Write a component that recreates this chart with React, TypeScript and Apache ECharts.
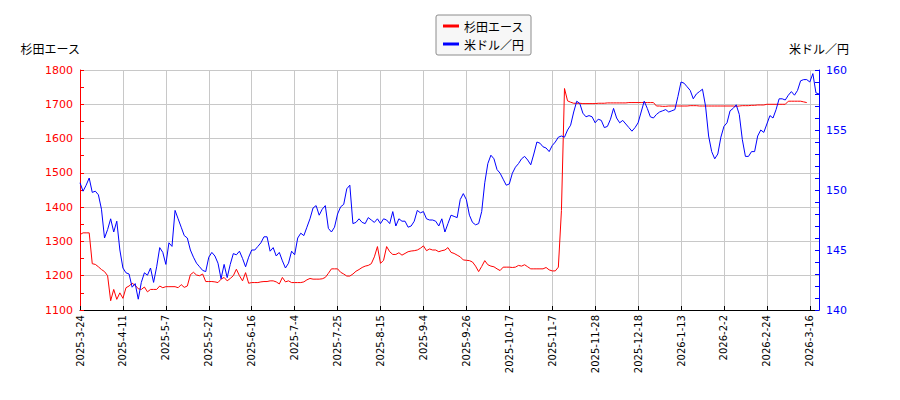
import { useEffect, useRef } from 'react';
import * as echarts from 'echarts';

// trading calendar (Tokyo), first and last session shown
const firstDay = '2025-03-24';
const lastDay = '2026-03-19';
const closedDays = [
  '2025-4-29', '2025-5-2', '2025-5-5', '2025-5-6', '2025-7-21', '2025-8-11',
  '2025-9-15', '2025-9-23', '2025-10-13', '2025-11-3', '2025-11-24',
  '2025-12-31', '2026-1-1', '2026-1-2', '2026-1-12', '2026-2-11', '2026-2-23',
];

const tickLabels = [
  '2025-3-24', '2025-4-11', '2025-5-7', '2025-5-27', '2025-6-16', '2025-7-4',
  '2025-7-25', '2025-8-15', '2025-9-4', '2025-9-26', '2025-10-17', '2025-11-7',
  '2025-11-28', '2025-12-18', '2026-1-13', '2026-2-2', '2026-2-24', '2026-3-16',
];

// 杉田エース 終値 (円)
const sugitaAce = [
  1320, 1325, 1325, 1325, 1235, 1233, 1226, 1218, 1212, 1200,
  1127, 1160, 1131, 1150, 1134, 1165, 1170, 1178, 1172, 1162,
  1160, 1167, 1153, 1160, 1160, 1160, 1170, 1165, 1168, 1168,
  1168, 1168, 1165, 1174, 1166, 1170, 1203, 1210, 1202, 1200,
  1205, 1183, 1183, 1183, 1182, 1180, 1190, 1195, 1185, 1192,
  1200, 1219, 1200, 1185, 1209, 1178, 1180, 1180, 1180, 1182,
  1183, 1183, 1185, 1185, 1182, 1176, 1195, 1182, 1185, 1180,
  1180, 1180, 1180, 1182, 1188, 1192, 1190, 1190, 1190, 1191,
  1195, 1207, 1220, 1220, 1220, 1210, 1205, 1199, 1199, 1205,
  1213, 1218, 1224, 1228, 1230, 1235, 1255, 1285, 1236, 1245,
  1285, 1270, 1262, 1262, 1267, 1260, 1265, 1270, 1272, 1273,
  1275, 1280, 1287, 1273, 1278, 1275, 1275, 1270, 1273, 1275,
  1282, 1268, 1265, 1260, 1255, 1246, 1245, 1244, 1240, 1228,
  1212, 1227, 1244, 1232, 1228, 1226, 1220, 1215, 1225, 1225,
  1225, 1224, 1225, 1230, 1228, 1232, 1226, 1220, 1220, 1220,
  1220, 1220, 1224, 1217, 1214, 1214, 1225, 1390, 1746, 1710,
  1706, 1703, 1703, 1703, 1702, 1702, 1702, 1702, 1702, 1703,
  1703, 1703, 1704, 1704, 1704, 1704, 1704, 1704, 1704, 1705,
  1705, 1705, 1705, 1705, 1705, 1705, 1705, 1705, 1695, 1695,
  1694, 1694, 1695, 1695, 1695, 1695, 1695, 1695, 1695, 1696,
  1696, 1696, 1695, 1695, 1695, 1695, 1695, 1695, 1695, 1695,
  1695, 1695, 1695, 1695, 1694, 1695, 1696, 1696, 1696, 1697,
  1697, 1698, 1698, 1698, 1700, 1700, 1700, 1700, 1700, 1700,
  1700, 1709, 1709, 1709, 1709, 1709, 1707, 1705,
];

// 米ドル／円
const usdJpy = [
  150.6, 149.9, 150.4, 151.0, 149.8, 149.9, 149.6, 148.4, 146.0, 146.7,
  147.6, 146.5, 147.4, 145.0, 143.5, 143.1, 143.0, 141.9, 142.2, 140.9,
  142.3, 143.1, 142.9, 143.5, 142.3, 143.6, 145.2, 144.8, 143.8, 145.6,
  145.3, 148.3, 147.6, 146.9, 146.2, 146.0, 145.0, 144.4, 143.9, 143.6,
  143.3, 143.2, 144.4, 144.8, 144.5, 143.9, 142.6, 143.8, 142.7, 143.8,
  144.7, 144.6, 144.9, 144.3, 143.6, 144.4, 145.0, 145.0, 145.3, 145.6,
  146.1, 146.1, 144.9, 145.2, 144.5, 144.8, 144.1, 143.5, 143.9, 144.9,
  144.6, 146.0, 146.4, 146.2, 146.9, 147.6, 148.5, 148.7, 147.9, 148.4,
  148.7, 146.8, 146.5, 146.9, 148.0, 148.6, 148.8, 150.1, 150.4, 147.2,
  147.3, 147.6, 147.3, 147.2, 147.7, 147.5, 147.3, 147.6, 147.2, 147.6,
  147.5, 147.2, 148.2, 147.0, 147.6, 147.4, 147.4, 146.9, 147.0, 147.4,
  148.3, 148.1, 148.2, 147.6, 147.5, 147.5, 147.4, 147.0, 147.6, 146.5,
  147.2, 147.9, 147.8, 147.7, 149.2, 149.7, 149.2, 147.9, 147.3, 147.1,
  147.2, 148.2, 150.6, 152.2, 152.9, 152.6, 151.7, 151.4, 150.9, 150.4,
  150.5, 151.4, 151.9, 152.2, 152.6, 152.8, 152.5, 152.1, 153.0, 154.0,
  153.9, 153.6, 153.5, 153.2, 153.7, 154.0, 154.4, 154.5, 154.4, 155.0,
  155.4, 156.5, 157.4, 157.2, 156.4, 156.1, 156.2, 156.1, 155.6, 155.9,
  155.8, 155.2, 155.3, 155.9, 156.8, 156.0, 155.6, 155.8, 155.5, 155.2,
  154.9, 155.2, 155.6, 156.5, 157.4, 156.8, 156.1, 156.0, 156.3, 156.5,
  156.6, 156.7, 156.5, 156.6, 156.7, 157.8, 159.0, 158.9, 158.6, 158.3,
  157.6, 158.0, 158.2, 158.4, 157.0, 154.5, 153.2, 152.6, 153.0, 154.4,
  155.3, 155.6, 156.6, 156.8, 157.1, 156.3, 154.2, 152.8, 152.8, 153.2,
  153.2, 154.5, 155.0, 154.8, 155.5, 156.2, 156.0, 156.7, 157.6, 157.6,
  157.5, 157.9, 158.2, 157.9, 158.3, 159.1, 159.2, 159.2, 159.0, 159.7,
  158.1, 158.0,
];

function tradingDays(): string[] {
  const out: string[] = [];
  const d = new Date(firstDay + 'T00:00:00Z');
  const end = new Date(lastDay + 'T00:00:00Z');
  while (d <= end) {
    const wd = d.getUTCDay();
    const key = `${d.getUTCFullYear()}-${d.getUTCMonth() + 1}-${d.getUTCDate()}`;
    if (wd !== 0 && wd !== 6 && !closedDays.includes(key)) out.push(key);
    d.setUTCDate(d.getUTCDate() + 1);
  }
  return out;
}

const jpFont = '"Noto Sans CJK JP", sans-serif';
const numFont = '"DejaVu Sans", sans-serif';

export default function App() {
  const chartRef = useRef<HTMLDivElement>(null);

  useEffect(() => {
    if (!chartRef.current) return;
    const chart = echarts.init(chartRef.current, null, { renderer: 'svg' });
    const dates = tradingDays();
    const showTick = (_i: number, value: string) => tickLabels.includes(value);

    const option: echarts.EChartsOption = {
      animation: false,
      legend: {
        data: ['杉田エース', '米ドル／円'],
        orient: 'vertical',
        left: 436,
        top: 15,
        padding: [5, 7],
        itemGap: 6,
        itemWidth: 16,
        itemHeight: 3,
        icon: 'rect',
        backgroundColor: '#f7f7f7',
        borderColor: '#8c8c8c',
        borderWidth: 1,
        borderRadius: 2,
        textStyle: { fontSize: 12, color: '#000', fontFamily: jpFont },
      },
      grid: { left: 80, right: 81, top: 70, bottom: 90 },
      xAxis: {
        type: 'category',
        data: dates,
        boundaryGap: false,
        axisLine: { lineStyle: { color: '#000', width: 1 } },
        axisTick: { inside: true, length: 4, interval: showTick, lineStyle: { color: '#000' } },
        axisLabel: {
          rotate: 90,
          interval: showTick,
          fontSize: 10,
          margin: 5,
          color: '#000',
          fontFamily: numFont,
        },
        splitLine: { show: true, interval: showTick, lineStyle: { color: '#c8c8c8', width: 1 } },
      },
      yAxis: [
        {
          type: 'value',
          name: '杉田エース',
          nameLocation: 'end',
          nameGap: 16,
          nameTextStyle: { align: 'right', color: '#000', fontSize: 12, fontFamily: jpFont },
          min: 1100,
          max: 1800,
          interval: 100,
          position: 'left',
          axisLine: { show: true, lineStyle: { color: '#ff0000' } },
          axisTick: { show: true, inside: true, length: 4, lineStyle: { color: '#ff0000' } },
          minorTick: { show: true, splitNumber: 2, length: 4, lineStyle: { color: '#ff0000' } },
          axisLabel: {
            color: '#ff0000',
            fontSize: 11,
            margin: 7,
            fontFamily: numFont,
            formatter: (v: number) => String(v),
          },
          splitLine: { show: true, lineStyle: { color: '#c8c8c8', width: 1 } },
        },
        {
          type: 'value',
          name: '米ドル／円',
          nameLocation: 'end',
          nameGap: 16,
          nameTextStyle: { align: 'center', color: '#000', fontSize: 12, fontFamily: jpFont },
          min: 140,
          max: 160,
          interval: 5,
          position: 'right',
          axisLine: { show: true, lineStyle: { color: '#0000ff' } },
          axisTick: { show: true, inside: true, length: 4, lineStyle: { color: '#0000ff' } },
          minorTick: { show: true, splitNumber: 5, length: 4, lineStyle: { color: '#0000ff' } },
          axisLabel: {
            color: '#0000ff',
            fontSize: 11,
            margin: 7,
            fontFamily: numFont,
            formatter: (v: number) => String(v),
          },
          splitLine: { show: false },
        },
      ],
      series: [
        {
          name: '杉田エース',
          type: 'line',
          yAxisIndex: 0,
          data: sugitaAce,
          showSymbol: false,
          color: '#ff0000',
          lineStyle: { width: 1, color: '#ff0000' },
        },
        {
          name: '米ドル／円',
          type: 'line',
          yAxisIndex: 1,
          data: usdJpy,
          showSymbol: false,
          color: '#0000ff',
          lineStyle: { width: 1, color: '#0000ff' },
        },
      ],
    };

    chart.setOption(option);
    return () => {
      chart.dispose();
    };
  }, []);

  return <div ref={chartRef} style={{ width: '900px', height: '400px', margin: '-8px' }} />;
}
